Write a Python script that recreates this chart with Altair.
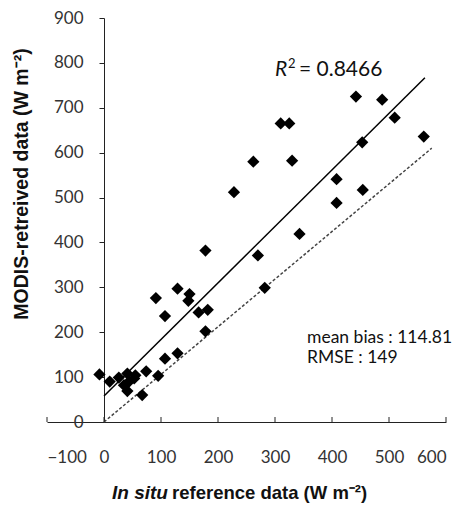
import altair as alt
import pandas as pd

# in situ (x) vs MODIS-retrieved (y), W m-2
insitu = [-8, 10, 26, 41, 44, 53, 41, 67, 74, 95, 107, 129, 35, 55,
          91, 107, 129, 150, 148, 166, 182, 178, 178, 228, 262, 270, 282,
          310, 325, 330, 343, 408, 408, 442, 453, 454, 488, 510, 561]
modis = [106, 90, 99, 108, 90, 97, 69, 60, 113, 103, 141, 153, 82, 104,
         276, 236, 297, 285, 270, 244, 250, 202, 382, 512, 580, 371, 299,
         665, 665, 582, 419, 541, 488, 725, 623, 517, 718, 678, 636]

fit_x = [0, 563]
fit_y = [58, 767]
ref_x = [0, 575]
ref_y = [0, 610]

x_ticks = [-100, 0, 100, 200, 300, 400, 500, 600]
y_ticks = [0, 100, 200, 300, 400, 500, 600, 700, 800, 900]

r2_label = "= 0.8466"
bias_label = "mean bias : 114.81"
rmse_label = "RMSE : 149"

pts = pd.DataFrame({"x": insitu, "y": modis})
fit = pd.DataFrame({"x": fit_x, "y": fit_y})
ref = pd.DataFrame({"x": ref_x, "y": ref_y})
ticks = pd.DataFrame({"tx": x_ticks})

W, H = 399, 404
FONT = "Lato"

xs = alt.Scale(domain=[-100, 600], nice=False, zero=False)
ys = alt.Scale(domain=[0, 900], nice=False, zero=False)

x_axis = alt.Axis(values=x_ticks, title=None, grid=False, ticks=False, tickSize=0,
                  labelPadding=27, domainColor="#222", labelColor="#333",
                  labelFontSize=17, labelFont=FONT)
y_axis = alt.Axis(values=y_ticks, title=None, grid=False, tickSize=5, offset=-57,
                  labelPadding=16, domainColor="#222", tickColor="#222",
                  labelColor="#333", labelFontSize=17, labelFont=FONT)

points = alt.Chart(pts).mark_point(shape="diamond", filled=True, color="black",
                                   opacity=1, size=150).encode(
    x=alt.X("x:Q", scale=xs, axis=x_axis),
    y=alt.Y("y:Q", scale=ys, axis=y_axis),
)

fit_line = alt.Chart(fit).mark_line(color="black", strokeWidth=1.5).encode(
    x=alt.X("x:Q", scale=xs), y=alt.Y("y:Q", scale=ys))

ref_line = alt.Chart(ref).mark_line(color="#444", strokeWidth=1.5,
                                    strokeDash=[3, 2]).encode(
    x=alt.X("x:Q", scale=xs), y=alt.Y("y:Q", scale=ys))

xtick_rules = alt.Chart(ticks).mark_rule(color="#222", strokeWidth=1).encode(
    x=alt.X("tx:Q", scale=xs), y=alt.value(H), y2=alt.value(H - 5))

def txt(s, x, y, size, style="normal", weight="normal", font=FONT, align="left", angle=0):
    return alt.Chart(pd.DataFrame({"t": [s]})).mark_text(
        fontSize=size, fontStyle=style, fontWeight=weight, font=font,
        align=align, baseline="middle", color="#111", angle=angle).encode(
        x=alt.value(x), y=alt.value(y), text="t:N")

annots = [
    txt("R", 228, 52, 21, style="italic"),
    txt("2", 241, 46, 13),
    txt(r2_label, 252, 52, 21),
    txt(bias_label, 260, 320, 17.5),
    txt(rmse_label, 260, 340, 17.5),
    txt("In situ", 65, 475, 19, style="italic", weight="bold", font="Liberation Sans"),
    txt("reference data (W m\u207b\u00b2)", 125, 475, 18.5, weight="bold", font="Liberation Sans"),
    txt("MODIS-retreived data (W m\u207b\u00b2)", -25, 166, 19.5, weight="bold",
        font="Liberation Sans", align="center", angle=270),
]

chart = alt.layer(ref_line, fit_line, xtick_rules, points, *annots).properties(
    width=W, height=H,
    autosize=alt.AutoSizeParams(type="none"),
    padding={"left": 39, "top": 10, "right": 8, "bottom": 84},
).configure_view(strokeWidth=0)

chart.save("out.html", embed_options={"renderer": "svg", "actions": False})
